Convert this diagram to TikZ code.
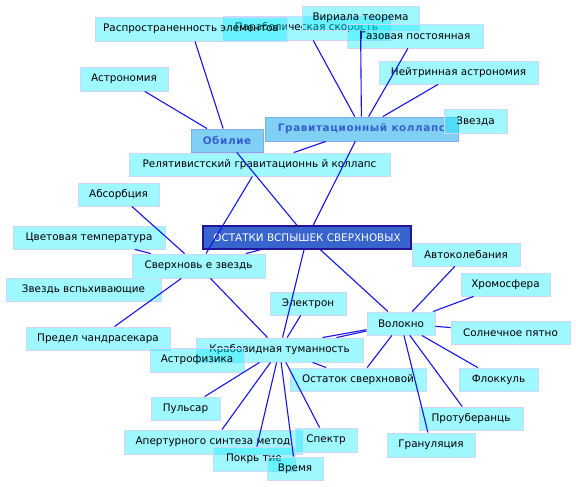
\documentclass[tikz,border=0pt]{standalone}
\usepackage{fontspec}
\setmainfont{DejaVu Sans}
\newfontfamily\boldspaced{DejaVu Sans}[LetterSpace=6]
\definecolor{cfill}{RGB}{12,237,255}
\definecolor{cborder}{RGB}{205,215,252}
\definecolor{bfill}{RGB}{128,208,245}
\definecolor{bborder}{RGB}{130,170,238}
\definecolor{btext}{RGB}{55,95,205}
\definecolor{mfill}{RGB}{55,100,205}
\definecolor{mborder}{RGB}{35,20,150}
\definecolor{edgecol}{RGB}{20,20,235}
\begin{document}
\begin{tikzpicture}[x=1pt,y=-1pt,
  cbox/.style={draw=cborder, fill=cfill, fill opacity=0.39, text opacity=1, draw opacity=1,
    line width=0.9pt, inner sep=0pt, text=black, font=\fontsize{10.4}{12}\selectfont},
  bbox/.style={draw=bborder, fill=bfill, line width=0.9pt, inner sep=0pt, text=btext,
    font=\boldspaced\fontsize{10.4}{12}\selectfont\bfseries},
  mbox/.style={draw=mborder, fill=mfill, line width=1.4pt, inner sep=0pt, text=white,
    font=\fontsize{10.4}{12}\selectfont},
  edge/.style={draw=edgecol, line width=1.1pt}]
\useasboundingbox (0,0) rectangle (576,487);
\fill[white] (0,0) rectangle (576,487);

% nodes (order matters for overlaps)
\node[cbox, minimum width=167pt, minimum height=24pt] (parab) at (306.5,28) {Параболическая скорость};
\node[cbox, minimum width=192pt, minimum height=24pt] (rasp) at (191,29) {Распространенность элементов};
\node[cbox, minimum width=117pt, minimum height=24pt] (virial) at (360.5,18) {Вириала теорема};
\node[cbox, minimum width=136pt, minimum height=24pt] (gaz) at (415,36) {Газовая постоянная};
\node[cbox, minimum width=159pt, minimum height=23pt] (neutr) at (458.5,72.5) {Нейтринная астрономия};
\node[cbox, minimum width=88pt, minimum height=24pt] (astron) at (124,79) {Астрономия};
\node[bbox, minimum width=193pt, minimum height=24pt] (grav) at (361.5,129) {Гравитационный коллапс};
\node[cbox, minimum width=63pt, minimum height=24pt] (zvezda) at (475.5,121) {Звезда};
\node[bbox, minimum width=72pt, minimum height=23pt] (obilie) at (227,140.5) {Обилие};
\node[cbox, minimum width=261pt, minimum height=23pt] (relat) at (259.5,164.5) {Релятивистский гравитационнь й коллапс};
\node[cbox, minimum width=81pt, minimum height=23pt] (absorb) at (118.5,194.5) {Абсорбция};
\node[mbox, minimum width=208pt, minimum height=23pt] (ostatki) at (307,237.5) {ОСТАТКИ ВСПЫШЕК СВЕРХНОВЫХ};
\node[cbox, minimum width=152pt, minimum height=23pt] (tsvet) at (89,237.5) {Цветовая температура};
\node[cbox, minimum width=133pt, minimum height=24pt] (sverh) at (198.5,266) {Сверхновь е звездь};
\node[cbox, minimum width=108pt, minimum height=23pt] (autokol) at (466,254.5) {Автоколебания};
\node[cbox, minimum width=155pt, minimum height=23pt] (zvezdv) at (83.5,289.5) {Звездь вспьхивающие};
\node[cbox, minimum width=89pt, minimum height=23pt] (hromo) at (505.5,284.5) {Хромосфера};
\node[cbox, minimum width=76pt, minimum height=23pt] (elektron) at (308,303.5) {Электрон};
\node[cbox, minimum width=68pt, minimum height=23pt] (volokno) at (401,323.5) {Волокно};
\node[cbox, minimum width=119pt, minimum height=23pt] (solnech) at (510.5,332.5) {Солнечное пятно};
\node[cbox, minimum width=144pt, minimum height=23pt] (predel) at (98,338.5) {Предел чандрасекара};
\node[cbox, minimum width=167pt, minimum height=24pt] (krab) at (279.5,350) {Крабовидная туманность};
\node[cbox, minimum width=94pt, minimum height=24pt] (astrof) at (197,360) {Астрофизика};
\node[cbox, minimum width=136pt, minimum height=23pt] (ostatok) at (358,379.5) {Остаток сверхновой};
\node[cbox, minimum width=79pt, minimum height=23pt] (flokk) at (498.5,379.5) {Флоккуль};
\node[cbox, minimum width=69pt, minimum height=23pt] (pulsar) at (185.5,408.5) {Пульсар};
\node[cbox, minimum width=104pt, minimum height=23pt] (proto) at (471,418.5) {Протуберанць};
\node[cbox, minimum width=178pt, minimum height=24pt] (apert) at (213,442) {Апертурного синтеза метод};
\node[cbox, minimum width=62pt, minimum height=24pt] (spektr) at (326,440) {Спектр};
\node[cbox, minimum width=88pt, minimum height=24pt] (granul) at (431,445) {Грануляция};
\node[cbox, minimum width=82pt, minimum height=24pt] (pokr) at (254,459) {Покрь тие};
\node[cbox, minimum width=56pt, minimum height=23pt] (vremya) at (295,468.5) {Время};

\coordinate (kNW) at (krab.north west);
\coordinate (kNE) at (krab.north east);
\coordinate (vaEnd) at (intersection of volokno--astrof and kNW--kNE);

% connectors
\path[edge] (obilie) -- (rasp);
\path[edge] (obilie) -- (astron);
\path[edge] (obilie) -- (ostatki);
\path[edge] (grav) -- (parab);
\path[edge] (grav) -- (virial);
\path[edge] (grav) -- (gaz);
\path[edge] (grav) -- (neutr);
\path[edge] (grav) -- (relat);
\path[edge] (grav) -- (ostatki);
\path[edge] (relat) -- (sverh);
\path[edge] (sverh) -- (absorb);
\path[edge] (sverh) -- (tsvet);
\path[edge] (sverh) -- (predel);
\path[edge] (sverh) -- (krab);
\path[edge] (sverh) -- (ostatki);
\path[edge] (ostatki) -- (krab);
\path[edge] (ostatki) -- (volokno);
\path[edge] (krab) -- (elektron);
\path[edge] (krab) -- (pulsar);
\path[edge] (krab) -- (apert);
\path[edge] (krab) -- (pokr);
\path[edge] (krab) -- (vremya);
\path[edge] (krab) -- (spektr);
\path[edge] (krab) -- (ostatok);
\path[edge] (krab) -- (volokno);
\path[edge] (volokno) -- (autokol);
\path[edge] (volokno) -- (hromo);
\path[edge] (volokno) -- (solnech);
\path[edge] (volokno) -- (flokk);
\path[edge] (volokno) -- (proto);
\path[edge] (volokno) -- (granul);
\path[edge] (volokno) -- (ostatok);
\path[edge] (volokno) -- (vaEnd);
\end{tikzpicture}
\end{document}
